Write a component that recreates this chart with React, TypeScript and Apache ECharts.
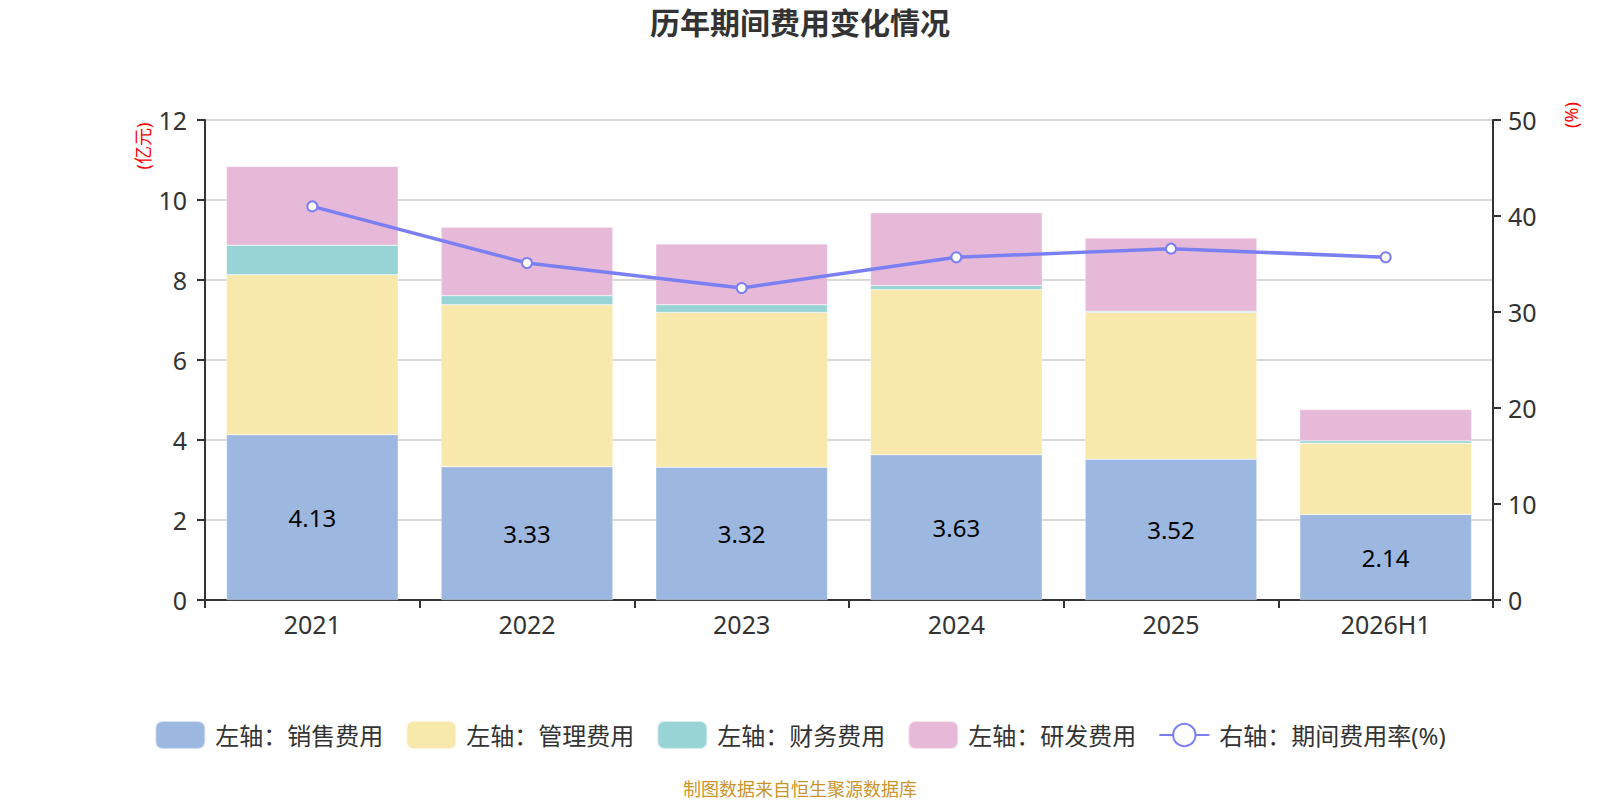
import React, { useEffect, useRef } from "react";
import * as echarts from "echarts";

const categories = ["2021", "2022", "2023", "2024", "2025", "2026H1"];
const salesExpense = [4.13, 3.33, 3.32, 3.63, 3.52, 2.14];
const adminExpense = [4.0, 4.05, 3.87, 4.13, 3.67, 1.78];
const financeExpense = [0.74, 0.23, 0.19, 0.1, 0.03, 0.06];
const rdExpense = [1.97, 1.71, 1.52, 1.82, 1.83, 0.78];
const expenseRate = [41.0, 35.1, 32.5, 35.7, 36.6, 35.7];

const leftTicks = { min: 0, max: 12, interval: 2 };
const rightTicks = { min: 0, max: 50, interval: 10 };

const FONT = '"Noto Sans", "Noto Sans CJK SC", sans-serif';

export default function App() {
  const ref = useRef<HTMLDivElement>(null);
  useEffect(() => {
    document.body.style.margin = "0";
    if (!ref.current) return;
    const chart = echarts.init(ref.current, undefined, { renderer: "svg" });
    const barLabel = {
      show: true,
      position: "inside",
      color: "#000",
      fontSize: 24,
      fontFamily: FONT,
    };
    const itemBorder = { borderColor: "rgba(255,255,255,0.6)", borderWidth: 0.5 };
    chart.setOption({
      animation: false,
      textStyle: { fontFamily: FONT },
      title: {
        text: "历年期间费用变化情况",
        left: "center",
        top: 2,
        textStyle: { fontSize: 30, fontWeight: "bold", color: "#333", fontFamily: FONT },
      },
      legend: {
        bottom: 45,
        left: "center",
        itemWidth: 50,
        itemHeight: 28,
        itemGap: 22,
        textStyle: { fontSize: 24, color: "#333", fontFamily: FONT, padding: [0, 0, 0, 5] },
        data: [
          { name: "左轴：销售费用", icon: "roundRect" },
          { name: "左轴：管理费用", icon: "roundRect" },
          { name: "左轴：财务费用", icon: "roundRect" },
          { name: "左轴：研发费用", icon: "roundRect" },
          { name: "右轴：期间费用率(%)" },
        ],
      },
      grid: { left: 205, right: 107, top: 120, bottom: 200, containLabel: false },
      xAxis: {
        type: "category",
        data: categories,
        axisLine: { lineStyle: { color: "#333", width: 2 } },
        axisTick: { show: true, length: 8, lineStyle: { color: "#333", width: 2 } },
        axisLabel: { fontSize: 25, color: "#333", margin: 11, fontFamily: FONT },
      },
      yAxis: [
        {
          type: "value",
          min: leftTicks.min,
          max: leftTicks.max,
          interval: leftTicks.interval,
          axisLine: { show: true, lineStyle: { color: "#333", width: 2 } },
          axisTick: { show: true, length: 8, lineStyle: { color: "#333", width: 2 } },
          axisLabel: { fontSize: 25, color: "#333", margin: 18, fontFamily: FONT },
          splitLine: { show: true, lineStyle: { color: "#ccc", width: 1.5 } },
        },
        {
          type: "value",
          min: rightTicks.min,
          max: rightTicks.max,
          interval: rightTicks.interval,
          position: "right",
          axisLine: { show: true, lineStyle: { color: "#333", width: 2 } },
          axisTick: { show: true, length: 8, lineStyle: { color: "#333", width: 2 } },
          axisLabel: { fontSize: 25, color: "#333", margin: 15, fontFamily: FONT },
          splitLine: { show: false },
        },
      ],
      graphic: [
        {
          type: "text",
          x: 143,
          y: 146,
          rotation: Math.PI / 2,
          style: {
            text: "(亿元)",
            fill: "#ff0000",
            fontSize: 18,
            fontFamily: FONT,
            align: "center",
            verticalAlign: "middle",
          },
        },
        {
          type: "text",
          x: 1571,
          y: 115,
          rotation: Math.PI / 2,
          style: {
            text: "(%)",
            fill: "#ff0000",
            fontSize: 18,
            fontFamily: FONT,
            align: "center",
            verticalAlign: "middle",
          },
        },
        {
          type: "text",
          x: 800,
          y: 789,
          style: {
            text: "制图数据来自恒生聚源数据库",
            fill: "#c9952c",
            fontSize: 18,
            fontFamily: FONT,
            align: "center",
            verticalAlign: "middle",
          },
        },
      ],
      series: [
        {
          name: "左轴：销售费用",
          type: "bar",
          stack: "fee",
          barCategoryGap: "20%",
          data: salesExpense,
          itemStyle: { color: "#9cb8e1", ...itemBorder },
          label: barLabel,
        },
        {
          name: "左轴：管理费用",
          type: "bar",
          stack: "fee",
          data: adminExpense,
          itemStyle: { color: "#f8e8ab", ...itemBorder },
        },
        {
          name: "左轴：财务费用",
          type: "bar",
          stack: "fee",
          data: financeExpense,
          itemStyle: { color: "#98d4d5", ...itemBorder },
        },
        {
          name: "左轴：研发费用",
          type: "bar",
          stack: "fee",
          data: rdExpense,
          itemStyle: { color: "#e7b9d8", ...itemBorder },
        },
        {
          name: "右轴：期间费用率(%)",
          type: "line",
          yAxisIndex: 1,
          data: expenseRate,
          symbol: "emptyCircle",
          symbolSize: 10,
          lineStyle: { color: "#7b7ff4", width: 3.5 },
          itemStyle: { color: "#7b7ff4", borderWidth: 2 },
        },
      ],
    });
    return () => chart.dispose();
  }, []);
  return <div ref={ref} style={{ width: 1600, height: 800 }} />;
}
